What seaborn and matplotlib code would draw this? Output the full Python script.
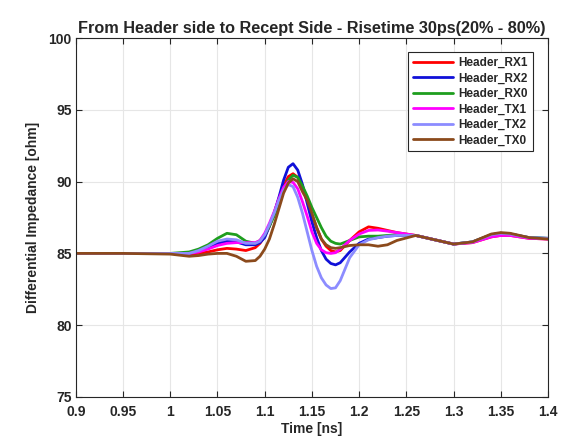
import matplotlib
matplotlib.use("Agg")
import matplotlib.pyplot as plt
import numpy as np
import pandas as pd
import seaborn as sns

# time axis [ns]
time_ns = [0.90, 0.95, 1.00, 1.02, 1.03, 1.04, 1.05, 1.06, 1.07, 1.08,
           1.09, 1.095, 1.10, 1.105, 1.11, 1.115, 1.12, 1.125, 1.13, 1.135,
           1.14, 1.145, 1.15, 1.155, 1.16, 1.165, 1.17, 1.175, 1.18, 1.19,
           1.20, 1.21, 1.22, 1.23, 1.24, 1.26, 1.28, 1.30, 1.32, 1.34,
           1.35, 1.36, 1.38, 1.40]

# differential impedance [ohm] per port
header_rx1 = [85.0, 85.0, 85.0, 84.95, 85.0, 85.1, 85.25, 85.35, 85.3, 85.2,
              85.4, 85.7, 86.2, 86.9, 87.8, 88.8, 89.7, 90.35, 90.55, 90.3,
              89.6, 88.7, 87.7, 86.8, 86.0, 85.5, 85.2, 85.1, 85.2, 85.9,
              86.5, 86.85, 86.75, 86.6, 86.45, 86.25, 85.95, 85.65, 85.75, 86.15,
              86.25, 86.25, 86.05, 86.0]
header_rx2 = [85.0, 85.0, 85.0, 85.0, 85.15, 85.4, 85.7, 85.85, 85.8, 85.6,
              85.6, 85.75, 86.1, 86.9, 87.8, 88.9, 90.1, 91.0, 91.25, 90.8,
              89.8, 88.5, 87.2, 86.1, 85.2, 84.6, 84.3, 84.2, 84.35, 85.1,
              85.7, 86.0, 86.1, 86.2, 86.25, 86.25, 85.95, 85.65, 85.8, 86.3,
              86.4, 86.35, 86.1, 86.05]
header_rx0 = [85.0, 85.0, 85.0, 85.1, 85.3, 85.6, 86.05, 86.4, 86.3, 85.85,
              85.7, 85.9, 86.3, 86.9, 87.6, 88.5, 89.4, 90.1, 90.45, 90.3,
              89.7, 89.0, 88.2, 87.5, 86.8, 86.2, 85.85, 85.7, 85.65, 85.9,
              86.15, 86.2, 86.2, 86.25, 86.3, 86.25, 85.95, 85.65, 85.8, 86.3,
              86.4, 86.35, 86.1, 86.05]
header_tx1 = [85.0, 85.0, 85.0, 85.0, 85.1, 85.3, 85.55, 85.7, 85.75, 85.75,
              85.75, 85.9, 86.4, 87.1, 87.9, 88.8, 89.6, 90.0, 89.95, 89.5,
              88.6, 87.6, 86.5, 85.7, 85.25, 85.05, 85.0, 85.05, 85.3, 85.9,
              86.35, 86.6, 86.63, 86.55, 86.45, 86.25, 85.95, 85.65, 85.75, 86.15,
              86.25, 86.25, 86.05, 86.0]
header_tx2 = [85.0, 85.0, 85.0, 85.0, 85.2, 85.5, 85.85, 86.0, 85.95, 85.7,
              85.7, 85.85, 86.3, 87.0, 87.8, 88.7, 89.4, 89.8, 89.65, 88.9,
              87.8, 86.5, 85.2, 84.1, 83.3, 82.8, 82.55, 82.6, 83.1, 84.7,
              85.6, 85.95, 86.1, 86.2, 86.25, 86.25, 85.95, 85.65, 85.8, 86.3,
              86.4, 86.35, 86.1, 86.05]
header_tx0 = [85.0, 85.0, 84.95, 84.8, 84.85, 84.95, 85.0, 85.0, 84.8, 84.45,
              84.5, 84.8, 85.3, 86.0, 87.0, 88.1, 89.2, 89.9, 90.2, 90.0,
              89.3, 88.7, 87.8, 86.8, 86.0, 85.6, 85.4, 85.35, 85.4, 85.55,
              85.6, 85.6, 85.5, 85.6, 85.9, 86.25, 85.95, 85.65, 85.8, 86.35,
              86.45, 86.4, 86.1, 86.0]

port_names = ["Header_RX1", "Header_RX2", "Header_RX0",
              "Header_TX1", "Header_TX2", "Header_TX0"]
port_colors = ["#ff0000", "#1010d8", "#1e9e1e", "#ff00ff", "#8c8cff", "#8b4a1c"]
x_ticks = [0.9, 0.95, 1, 1.05, 1.1, 1.15, 1.2, 1.25, 1.3, 1.35, 1.4]
x_tick_labels = ["0.9", "0.95", "1", "1.05", "1.1", "1.15", "1.2", "1.25", "1.3", "1.35", "1.4"]
y_ticks = [75, 80, 85, 90, 95, 100]

series = [header_rx1, header_rx2, header_rx0, header_tx1, header_tx2, header_tx0]
df = pd.concat([pd.DataFrame({"time": time_ns, "imp": vals, "port": name})
                for name, vals in zip(port_names, series)], ignore_index=True)

sns.set_theme(style="whitegrid")
plt.rcParams["font.family"] = ["Liberation Sans", "DejaVu Sans"]
plt.rcParams["font.weight"] = "bold"

fig = plt.figure(figsize=(5.62, 4.43), dpi=100)
ax = fig.add_axes([0.135, 0.104, 0.84, 0.81])

sns.lineplot(data=df, x="time", y="imp", hue="port", hue_order=port_names,
             palette=port_colors, estimator=None, sort=False, lw=2, ax=ax)

ax.set_xlim(0.9, 1.4)
ax.set_ylim(75, 100)
ax.set_xticks(x_ticks)
ax.set_xticklabels(x_tick_labels)
ax.set_yticks(y_ticks)
ax.grid(True, color="#e6e6e6", lw=0.8)
ax.set_facecolor("white")
for s in ax.spines.values():
    s.set_color("#262626")
    s.set_linewidth(0.8)
ax.tick_params(direction="in", length=4, width=0.8, colors="#262626",
               top=True, right=True, bottom=True, left=True, labelsize=10)
ax.tick_params(axis="x", pad=6)
ax.tick_params(axis="y", pad=3)
for lab in ax.get_xticklabels() + ax.get_yticklabels():
    lab.set_fontweight("bold")

ax.set_title("From Header side to Recept Side - Risetime 30ps(20% - 80%)",
             fontsize=11.7, fontweight="bold", pad=4)
ax.set_xlabel("Time [ns]", fontsize=10, fontweight="bold", labelpad=2)
ax.set_ylabel("Differential Impedance [ohm]", fontsize=10, fontweight="bold", labelpad=6)

leg = ax.legend(loc="upper right", bbox_to_anchor=(0.968, 0.961), borderaxespad=0,
                fontsize=8.5, handlelength=3.4, handletextpad=0.5, labelspacing=0.3,
                frameon=True, fancybox=False, edgecolor="#262626", framealpha=1)
leg.get_frame().set_linewidth(0.8)
for t in leg.get_texts():
    t.set_fontweight("bold")

fig.savefig("out.png", dpi=100, facecolor="white")
